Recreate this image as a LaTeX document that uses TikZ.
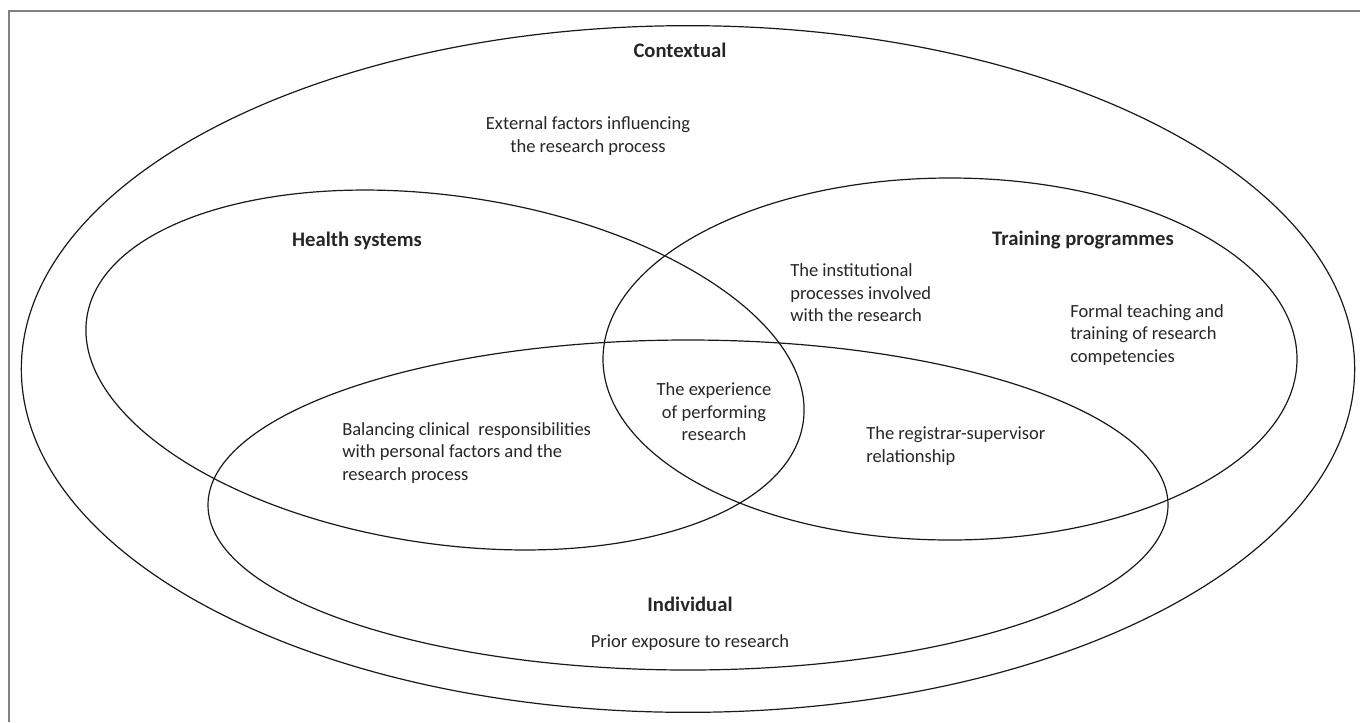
\documentclass[tikz,border=0pt]{standalone}
\usepackage{fontspec}
\setmainfont{Carlito}
\begin{document}
\begin{tikzpicture}[x=0.75pt,y=-0.75pt,
  ring/.style={draw=black!90,line width=0.9pt},
  heading/.style={font=\fontsize{15.5}{18}\selectfont\bfseries,text=black!85,inner sep=0pt},
  body/.style={font=\fontsize{13.9}{16.9}\selectfont,text=black!85,inner sep=0pt,align=center},
  bodyleft/.style={body,align=left}]
\useasboundingbox (0,0) rectangle (1360,722);
% frame
\draw[draw=black!50,line width=1.1pt] (9,722) -- (9,11) -- (1360,11);
% the four domains
\draw[ring] (688,369) ellipse [x radius=500pt, y radius=257.5pt];
\draw[ring,rotate around={-8.3:(445,370)}] (445,370) ellipse [x radius=271.5pt, y radius=130.5pt];
\draw[ring] (950,359) ellipse [x radius=260.25pt, y radius=135.75pt];
\draw[ring] (688,505) ellipse [x radius=360pt, y radius=123.75pt];
% labels
\node[heading] (ctx) at (680,50) {Contextual};
\node[body] (ctxtxt) at (588,136) {External factors influencing\\the research process};
\node[heading] (hs) at (357,241) {Health systems};
\node[heading] (tp) at (1083,240) {Training programmes};
\node[bodyleft,anchor=west] (inst) at (790,293) {The institutional\\processes involved\\with the research};
\node[bodyleft,anchor=west] (formal) at (1070,335) {Formal teaching and\\training of research\\competencies};
\node[body] (exp) at (714,412) {The experience\\of performing\\research};
\node[bodyleft,anchor=west] (bal) at (342,453) {Balancing clinical \ responsibilities\\with personal factors and the\\research process};
\node[bodyleft,anchor=west] (reg) at (866,446) {The registrar-supervisor\\relationship};
\node[heading] (ind) at (690,604) {Individual};
\node[body] (prior) at (690,643) {Prior exposure to research};
\end{tikzpicture}
\end{document}
